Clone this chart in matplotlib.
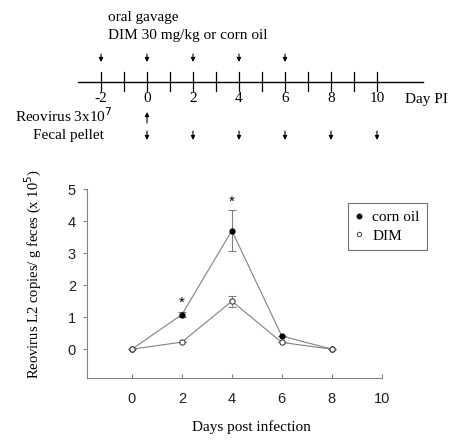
import matplotlib.pyplot as plt
from matplotlib.lines import Line2D

plt.rcParams['font.family'] = 'Liberation Serif'

# data
days = [0, 2, 4, 6, 8]
corn_oil = [0.0, 1.08, 3.70, 0.41, 0.0]
corn_err = [0.0, 0.08, 0.63, 0.0, 0.0]
dim = [0.0, 0.22, 1.50, 0.21, 0.0]
dim_err = [0.0, 0.0, 0.17, 0.0, 0.0]
sig_days = [2, 4]
sig_y = [1.45, 4.6]

timeline_days = list(range(-2, 11))
label_days = [-2, 0, 2, 4, 6, 8, 10]
gavage_days = [-2, 0, 2, 4, 6]
pellet_days = [0, 2, 4, 6, 8, 10]
infect_day = 0

W, H = 463, 445
fig = plt.figure(figsize=(W / 100, H / 100), dpi=100)

# top timeline, y in pixel rows
axt = fig.add_axes([0, 1 - 160 / H, 1, 160 / H])
axt.set_xlim(-147 / 23, (W - 147) / 23)
axt.set_ylim(160, 0)
axt.axis('off')
axt.plot([-3, 12], [82, 82], color='black', lw=1)
for d in timeline_days:
    axt.plot([d, d], [72, 91], color='black', lw=0.9)
for d in label_days:
    axt.text(d, 99, str(d), ha='center', va='center', fontsize=11)
axt.text(11.2, 99, 'Day PI', ha='left', va='center', fontsize=11)
axt.text(-1.7, 17, 'oral gavage', ha='left', va='center', fontsize=11)
axt.text(-1.7, 35, 'DIM 30 mg/kg or corn oil', ha='left', va='center', fontsize=11)
axt.text(-5.74, 116, r'Reovirus 3x10$^7$', ha='left', va='center', fontsize=11)
axt.text(-4.95, 135, 'Fecal pellet', ha='left', va='center', fontsize=11)

arrow = dict(arrowstyle='-|>', color='black', lw=0.8, mutation_scale=6, shrinkA=0, shrinkB=0)
for d in gavage_days:
    axt.annotate('', xy=(d, 62), xytext=(d, 54), arrowprops=arrow)
for d in pellet_days:
    axt.annotate('', xy=(d, 140), xytext=(d, 131), arrowprops=arrow)
axt.annotate('', xy=(infect_day, 112), xytext=(infect_day, 123), arrowprops=arrow)

# bottom plot
ax = fig.add_axes([87 / W, 1 - 378 / H, (381.7 - 87) / W, (378 - 189) / H])
ax.set_xlim(-1.8, 10)
ax.set_ylim(-0.9, 5)

ax.errorbar(days, corn_oil, yerr=corn_err, color='#808080', lw=0.8,
            ecolor='#808080', elinewidth=0.8, capsize=3, capthick=0.8,
            marker='o', ms=3.5, mfc='black', mec='black', zorder=2)
ax.errorbar(days, dim, yerr=dim_err, color='#808080', lw=0.8,
            ecolor='#808080', elinewidth=0.8, capsize=3, capthick=0.8,
            marker='o', ms=3.8, mfc='white', mec='#404040', mew=0.8, zorder=3)
for d, y in zip(sig_days, sig_y):
    ax.text(d, y, '*', ha='center', va='center', fontsize=11, family='Liberation Sans')

for s in ['top', 'right']:
    ax.spines[s].set_visible(False)
for s in ['left', 'bottom']:
    ax.spines[s].set_color('#808080')
    ax.spines[s].set_linewidth(0.8)

ax.set_xticks(range(0, 11, 2))
ax.set_yticks(range(0, 6))
ax.tick_params(axis='y', direction='out', length=3, color='#808080', labelsize=10.5, pad=5)
ax.tick_params(axis='x', direction='in', length=3, color='#808080', labelsize=10.5, pad=10)
for lab in ax.get_xticklabels() + ax.get_yticklabels():
    lab.set_family('Liberation Sans')
    lab.set_color('#202020')

fig.text(251 / W, 1 - 427 / H, 'Days post infection', ha='center', va='center', fontsize=11)
fig.text(33 / W, 1 - 274 / H, r'Reovirus L2 copies/ g feces (x 10$^5$)',
         ha='center', va='center', rotation=90, fontsize=10.5)

handles = [Line2D([], [], ls='none', marker='o', ms=3.2, mfc='black', mec='black'),
           Line2D([], [], ls='none', marker='o', ms=3.2, mfc='white', mec='#404040', mew=0.7)]
leg = ax.legend(handles, ['corn oil', 'DIM'], loc='upper left',
                bbox_to_anchor=(348 / W, 1 - 203 / H), borderaxespad=0,
                bbox_transform=fig.transFigure, frameon=True, fancybox=False,
                edgecolor='#505050', fontsize=11, handlelength=0.5, handletextpad=0.6,
                borderpad=0.5, labelspacing=0.3, numpoints=1)
leg.get_frame().set_linewidth(0.8)

fig.savefig('out.png', dpi=100)
